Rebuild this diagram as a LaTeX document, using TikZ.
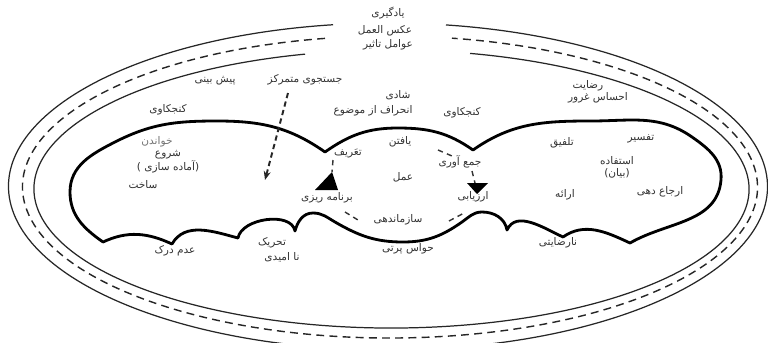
\documentclass[tikz,border=0pt]{standalone}
\usepackage{fontspec}
\newfontfamily\fa[Script=Arabic]{DejaVu Sans}
\TeXXeTstate=1
\usetikzlibrary{arrows.meta}
\tikzset{
  lbl/.style={font=\fa\fontsize{6}{7}\selectfont, text=black!80, inner sep=0.5pt, align=center},
  ring/.style={line width=0.7pt, black!85},
  dring/.style={line width=0.8pt, black!85, dash pattern=on 4.5pt off 3pt},
  outline/.style={line width=1.6pt, black, line join=round},
  cyc/.style={line width=0.8pt, black!80, dash pattern=on 3pt off 2.5pt},
}
\begin{document}
\begin{tikzpicture}[x=0.02cm,y=0.02cm]
\useasboundingbox (0,0) rectangle (768,-342);
\fill[white] (0,0) rectangle (768,-342);
\clip (0,0) rectangle (768,-342);
% rings with a gap at the top
\draw[ring] (388,-186.5) ++(98.33:379.5 and 163.5) arc[start angle=98.33, end angle=441.21, x radius=379.5, y radius=163.5];
\draw[dring] (390,-187) ++(100.19:367.5 and 151) arc[start angle=100.19, end angle=440.29, x radius=367.5, y radius=151];
\draw[ring] (391.5,-189) ++(104:357.5 and 139) arc[start angle=104, end angle=437.31, x radius=357.5, y radius=139];
% central outline
\draw[outline] (325,-152) to[out=145,in=0] (217,-121)
  to[out=180,in=27] (115,-142)
  to[out=207,in=90] (70,-192)
  to[out=-90,in=145] (103,-242)
  to[out=25,in=155] (172,-244)
  to[out=60,in=165] (238,-238)
  to[out=80,in=100,looseness=0.9] (295,-231)
  to[out=75,in=180] (313,-213)
  to[out=0,in=150] (335,-222)
  to[out=-30,in=180] (403,-242)
  to[out=0,in=-145] (462,-222)
  to[out=35,in=180] (482,-212)
  to[out=0,in=100] (507,-230)
  to[out=65,in=155] (563,-237)
  to[out=35,in=155] (630,-243)
  to[out=30,in=-95] (721,-180)
  to[out=85,in=-35] (692,-137)
  to[out=145,in=0] (591,-121)
  to[out=180,in=35] (473,-150)
  to[out=145,in=0] (398,-128)
  to[out=180,in=35] cycle;
% labels
\node[lbl] (yad) at (388,-13) {\beginR یادگیری\endR};
\node[lbl] (aks) at (385,-31) {\beginR عکس العمل\endR};
\node[lbl] (avam) at (388,-45) {\beginR عوامل تاثیر\endR};
\node[lbl] (pish) at (215,-81) {\beginR پیش بینی\endR};
\node[lbl] (jost) at (305,-80) {\beginR جستجوی متمرکز\endR};
\node[lbl] (konj1) at (168,-110) {\beginR کنجکاوی\endR};
\node[lbl] (shadi) at (398,-95) {\beginR شادی\endR};
\node[lbl] (enheraf) at (373,-111) {\beginR انحراف از موضوع\endR};
\node[lbl] (konj2) at (462,-113) {\beginR کنجکاوی\endR};
\node[lbl] (rezayat) at (588,-86) {\beginR رضایت\endR};
\node[lbl] (ehsas) at (598,-98) {\beginR احساس غرور\endR};
\node[lbl] (yaftan) at (400,-142) {\beginR یافتن\endR};
\node[lbl] (tarif) at (348,-154) {\beginR تعَریف\endR};
\node[lbl] (jam) at (460,-162) {\beginR جمع آوری\endR};
\node[lbl] (amal) at (403,-177) {\beginR عمل\endR};
\node[lbl] (barname) at (327,-198) {\beginR برنامه ریزی\endR};
\node[lbl] (arzyabi) at (473,-197) {\beginR ارزیابی\endR};
\node[lbl] (sazman) at (398,-220) {\beginR سازماندهی\endR};
\node[lbl, text=black!55] (khandan) at (157,-142) {\beginR خواندن\endR};
\node[lbl] (shoru) at (168,-162) {\beginR شروع\endR\\\beginR (آماده سازی )\endR};
\node[lbl] (sakht) at (143,-185) {\beginR ساخت\endR};
\node[lbl] (talfigh) at (562,-143) {\beginR تلفیق\endR};
\node[lbl] (tafsir) at (641,-139) {\beginR تفسیر\endR};
\node[lbl] (estefade) at (617,-167) {\beginR استفاده\endR\\\beginR (بیان)\endR};
\node[lbl] (erja) at (660,-192) {\beginR ارجاع دهی\endR};
\node[lbl] (erae) at (565,-195) {\beginR ارائه\endR};
\node[lbl] (adam) at (175,-251) {\beginR عدم درک\endR};
\node[lbl] (tahrik) at (272,-243) {\beginR تحریک\endR};
\node[lbl] (naomidi) at (282,-257) {\beginR نا امیدی\endR};
\node[lbl] (havas) at (408,-249) {\beginR حواس پرتی\endR};
\node[lbl] (narezayati) at (558,-243) {\beginR نارضایتی\endR};
% dashed arrow from the focused search
\coordinate (js) at (288,-93);
\coordinate (je) at (265,-180);
\draw[line width=1.1pt, black!85, dash pattern=on 3pt off 2pt, -{Stealth[length=5pt,width=4pt]}] (js) -- (je);
% fragments of the dashed cycle round the action
\coordinate (c1a) at (438,-150); \coordinate (c1b) at (452,-156);
\draw[cyc] (c1a) -- (c1b);
\coordinate (c2a) at (345,-212); \coordinate (c2b) at (358,-220);
\draw[cyc] (c2a) -- (c2b);
\coordinate (c3a) at (449,-221); \coordinate (c3b) at (466,-212);
\draw[cyc] (c3a) -- (c3b);
\coordinate (c4a) at (333,-160); \coordinate (c4b) at (332,-172);
\draw[cyc] (c4a) -- (c4b);
\coordinate (c5a) at (472,-171); \coordinate (c5b) at (475,-183);
\draw[cyc] (c5a) -- (c5b);
% arrowheads
\fill[black] (315,-190) -- (332,-172) -- (338,-190) -- cycle;
\fill[black] (467,-183) -- (488,-183) -- (477,-194) -- cycle;
\end{tikzpicture}
\end{document}
